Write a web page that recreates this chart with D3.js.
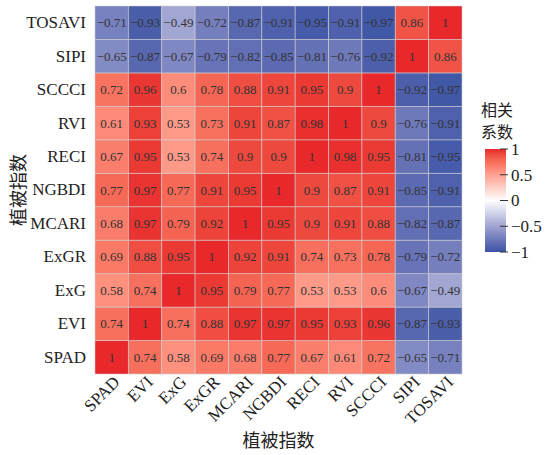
<!DOCTYPE html>
<html><head><meta charset="utf-8">
<script src="https://cdn.jsdelivr.net/npm/d3@7"></script>
<style>body{margin:0;background:#fff}</style>
</head><body>
<script>
const indices = ["SPAD","EVI","ExG","ExGR","MCARI","NGBDI","RECI","RVI","SCCCI","SIPI","TOSAVI"];
const rSPAD   = [1,0.74,0.58,0.69,0.68,0.77,0.67,0.61,0.72,-0.65,-0.71];
const rEVI    = [0.74,1,0.74,0.88,0.97,0.97,0.95,0.93,0.96,-0.87,-0.93];
const rExG    = [0.58,0.74,1,0.95,0.79,0.77,0.53,0.53,0.6,-0.67,-0.49];
const rExGR   = [0.69,0.88,0.95,1,0.92,0.91,0.74,0.73,0.78,-0.79,-0.72];
const rMCARI  = [0.68,0.97,0.79,0.92,1,0.95,0.9,0.91,0.88,-0.82,-0.87];
const rNGBDI  = [0.77,0.97,0.77,0.91,0.95,1,0.9,0.87,0.91,-0.85,-0.91];
const rRECI   = [0.67,0.95,0.53,0.74,0.9,0.9,1,0.98,0.95,-0.81,-0.95];
const rRVI    = [0.61,0.93,0.53,0.73,0.91,0.87,0.98,1,0.9,-0.76,-0.91];
const rSCCCI  = [0.72,0.96,0.6,0.78,0.88,0.91,0.95,0.9,1,-0.92,-0.97];
const rSIPI   = [-0.65,-0.87,-0.67,-0.79,-0.82,-0.85,-0.81,-0.76,-0.92,1,0.86];
const rTOSAVI = [-0.71,-0.93,-0.49,-0.72,-0.87,-0.91,-0.95,-0.91,-0.97,0.86,1];
const legendTicks = [1,0.5,0,-0.5,-1];
const axisTitle = "植被指数";
const legendTitle = ["相关","系数"];

const rows = [rSPAD,rEVI,rExG,rExGR,rMCARI,rNGBDI,rRECI,rRVI,rSCCCI,rSIPI,rTOSAVI];
const cells = [];
rows.forEach((row,i)=>row.forEach((v,j)=>cells.push({y:indices[i],x:indices[j],v})));

const W=546,H=455;
const serif = "Liberation Serif, Tinos, Times New Roman, Nimbus Roman, FreeSerif, Noto Serif, DejaVu Serif, serif";
const cjk = "Noto Sans CJK SC, sans-serif";
const svg = d3.select("body").append("svg").attr("width",W).attr("height",H);

const L=95,R=462,T=6,B=374;
const x = d3.scaleBand().domain(indices).range([L,R]);
const y = d3.scaleBand().domain(indices).range([B,T]);
const neg = d3.interpolateLab("#ffffff","#3A53A4");
const pos = d3.interpolateLab("#ffffff","#E8282B");
const color = v => v>=0 ? pos(v) : neg(-v);

svg.append("g").selectAll("rect").data(cells).join("rect")
  .attr("x",d=>x(d.x)).attr("y",d=>y(d.y))
  .attr("width",x.bandwidth()).attr("height",y.bandwidth())
  .attr("fill",d=>color(d.v))
  .attr("stroke","#d0d0d0").attr("stroke-opacity",0.7).attr("stroke-width",0.8);

svg.append("g").selectAll("text").data(cells).join("text")
  .attr("x",d=>x(d.x)+x.bandwidth()/2).attr("y",d=>y(d.y)+y.bandwidth()/2)
  .attr("dy","0.35em").attr("text-anchor","middle")
  .style("font-family",serif).style("font-size","13px").attr("fill","#333")
  .text(d=>d.v<0 ? "\u2212"+String(-d.v) : String(d.v));

const ya = svg.append("g").attr("transform",`translate(${L},0)`)
  .call(d3.axisLeft(y).tickSize(0).tickPadding(9));
ya.select(".domain").remove();
ya.selectAll("text").style("font-family",serif).style("font-size","17px").attr("fill","#222");

const xa = svg.append("g").attr("transform",`translate(0,${B})`)
  .call(d3.axisBottom(x).tickSize(0).tickPadding(0));
xa.select(".domain").remove();
xa.selectAll("text").style("font-family",serif).style("font-size","17px").attr("fill","#222")
  .attr("text-anchor","end").attr("dy",null).attr("y",0)
  .attr("transform","translate(9,9) rotate(-45)");

svg.append("text").attr("x",(L+R)/2).attr("y",447).attr("text-anchor","middle")
  .style("font-family",cjk).style("font-size","18px").attr("fill","#222").text(axisTitle);
svg.append("text").attr("transform",`translate(25,${(T+B)/2}) rotate(-90)`).attr("text-anchor","middle")
  .style("font-family",cjk).style("font-size","18px").attr("fill","#222").text(axisTitle);

const lx=485,lw=21,ly0=149,ly1=252;
const ls = d3.scaleLinear().domain([-1,1]).range([ly1,ly0]);
const grad = svg.append("defs").append("linearGradient").attr("id","g").attr("x1",0).attr("x2",0).attr("y1",1).attr("y2",0);
d3.range(-1,1.001,0.1).forEach(v=>grad.append("stop").attr("offset",(v+1)/2).attr("stop-color",color(v)));
svg.append("rect").attr("x",lx).attr("y",ly0).attr("width",lw).attr("height",ly1-ly0).attr("fill","url(#g)");
const lg = svg.append("g");
legendTicks.forEach(t=>{
  lg.append("line").attr("x1",lx+lw-6).attr("x2",lx+lw+2).attr("y1",ls(t)).attr("y2",ls(t)).attr("stroke","#333").attr("stroke-width",1);
  lg.append("text").attr("x",lx+lw+5).attr("y",ls(t)).attr("dy","0.35em")
    .style("font-family",serif).style("font-size","17px").attr("fill","#222")
    .text(t<0 ? "\u2212"+String(-t) : String(t));
});
legendTitle.forEach((s,i)=>svg.append("text").attr("x",481).attr("y",116+i*22)
  .style("font-family",cjk).style("font-size","16px").attr("fill","#222").text(s));
</script>
</body></html>
